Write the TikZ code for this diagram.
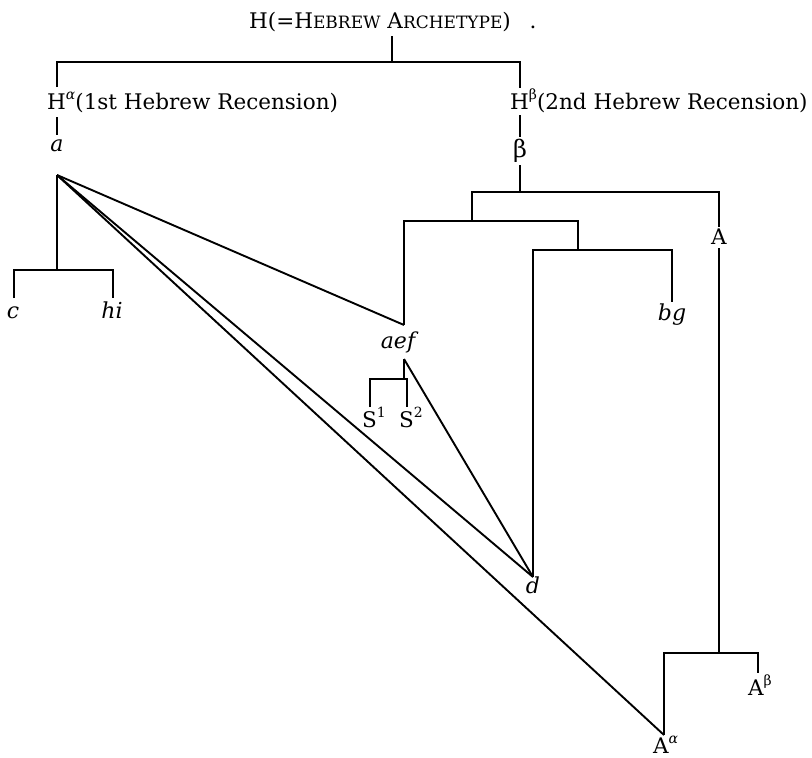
\documentclass[tikz,border=0pt]{standalone}
\usepackage{fontspec}
\setmainfont{DejaVu Serif}
\newcommand{\fakesc}[1]{{\fontsize{17}{19}\selectfont #1}}
\newcommand{\upper}[1]{\raisebox{0.42em}{\fontsize{14}{16}\selectfont #1}}

\begin{document}
\begin{tikzpicture}
                [x=1pt,y=-1pt,
                txt/.style={inner sep=0pt,anchor=base,font=\fontsize{21.5}{24}\selectfont},
                itxt/.style={txt,font=\fontsize{22}{24}\selectfont\itshape},
                stem/.style={line width=1.9pt},
                ]
                \useasboundingbox (0,0) rectangle (812,758);
                \node[txt] (title) at (380,28) {H(=H\fakesc{EBREW} A\fakesc{RCHETYPE})};
                \node[txt] (dot) at (533,28) {.};
                \node[txt,anchor=base west] (Ha) at (47,109) {H\upper{\itshape α}(1st Hebrew Recension)};
                \node[txt,anchor=base west] (Hb) at (510,109) {H\upper{β}(2nd Hebrew Recension)};
                \node[itxt] (a) at (57,151) {a};
                \node[txt,anchor=center,font=\fontsize{24}{26}\selectfont] (beta) at (520,151) {β};
                \node[itxt] (c) at (13,318) {c};
                \node[itxt] (hi) at (112,318) {hi};
                \node[itxt] (aef) at (398,348) {aef};
                \node[itxt] (bg) at (672,320) {bg};
                \node[itxt] (d) at (533,593) {d};
                \node[txt] (A) at (719,244) {A};
                \node[txt,anchor=base west] (Aa) at (653,753) {A\upper{\itshape α}};
                \node[txt,anchor=base west] (Ab) at (748,695) {A\upper{β}};
                \node[txt,anchor=base west] (S1) at (362,427) {S\upper{1}};
                \node[txt,anchor=base west] (S2) at (399,427) {S\upper{2}};

                \coordinate (tTop) at (392,36);   \coordinate (tJ) at (392,62);
                \coordinate (haUp) at (57,87);    \coordinate (haDn) at (57,117);
                \coordinate (aUp) at (57,135);    \coordinate (aV) at (57,175);
                \coordinate (hbUp) at (520,88);   \coordinate (hbDn) at (520,115);
                \coordinate (bUp) at (520,137);   \coordinate (bDn) at (520,165);
                \coordinate (bJ) at (520,192);
                \coordinate (cJ) at (57,270);     \coordinate (cEnd) at (14,298);
                \coordinate (hiEnd) at (113,298);
                \coordinate (gJ) at (472,221);    \coordinate (aefV) at (404,325);
                \coordinate (dbJ) at (578,250);   \coordinate (bgEnd) at (672,302);
                \coordinate (dV) at (533,577);
                \coordinate (AUp) at (719,227);   \coordinate (ADn) at (719,248);
                \coordinate (AJ) at (719,653);    \coordinate (AaV) at (664,735);
                \coordinate (AbEnd) at (758,673);
                \coordinate (aefDn) at (404,359); \coordinate (sJ) at (404,379);
                \coordinate (s1End) at (370,407); \coordinate (s2End) at (407,407);

                \draw[stem] (tTop) -- (tJ);
                \draw[stem] (haUp) -- (haUp |- tJ) -- (hbUp |- tJ) -- (hbUp);
                \draw[stem] (haDn) -- (aUp);
                \draw[stem] (hbDn) -- (bUp);
                \draw[stem] (bDn) -- (bJ);
                \draw[stem] (aV) -- (cJ);
                \draw[stem] (cEnd) -- (cEnd |- cJ) -- (hiEnd |- cJ) -- (hiEnd);
                \draw[stem] (gJ) -- (gJ |- bJ) -- (AUp |- bJ) -- (AUp);
                \draw[stem] (ADn) -- (AJ);
                \draw[stem] (AaV) -- (AaV |- AJ) -- (AbEnd |- AJ) -- (AbEnd);
                \draw[stem] (aefV) -- (aefV |- gJ) -- (dbJ |- gJ) -- (dbJ);
                \draw[stem] (dV) -- (dV |- dbJ) -- (bgEnd |- dbJ) -- (bgEnd);
                \draw[stem] (aV) -- (aefV);
                \draw[stem] (aV) -- (dV);
                \draw[stem] (aV) -- (AaV);
                \draw[stem] (aefDn) -- (dV);
                \draw[stem] (aefDn) -- (sJ);
                \draw[stem] (s1End) -- (s1End |- sJ) -- (s2End |- sJ) -- (s2End);
            \end{tikzpicture}
\end{document}
